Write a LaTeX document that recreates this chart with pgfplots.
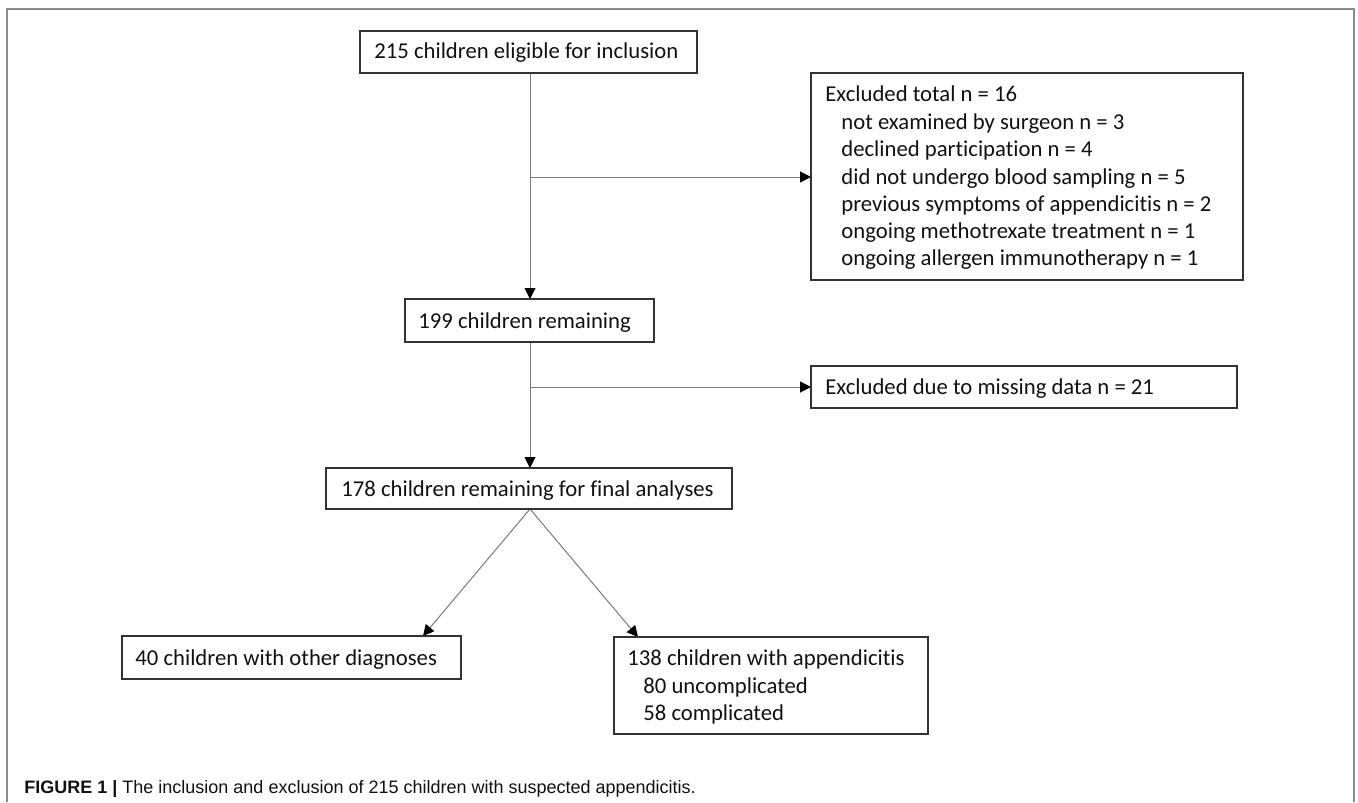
\documentclass[border=0pt]{standalone}
\usepackage{pgfplots}
\pgfplotsset{compat=1.18}
\usepackage{fontspec}
\setmainfont{Carlito}[Ligatures=NoCommon,RawFeature={-liga;-clig;-dlig}]
\newfontfamily\capfont{Liberation Sans}
\usetikzlibrary{arrows.meta}
\definecolor{boxc}{HTML}{333333}
\definecolor{linec}{HTML}{7A7A7A}
\definecolor{framec}{HTML}{8C8C8C}
\definecolor{txt}{HTML}{111111}
\newcommand\fs{\fontsize{11.35}{13.6}\selectfont}
\begin{document}
\begin{tikzpicture}
\begin{axis}[width=679pt,height=401pt,scale only axis,
  xmin=0,xmax=1358,ymin=0,ymax=802,y dir=reverse,
  hide axis,clip=false,no markers,
  every axis plot/.append style={line join=miter}]
% invisible extent
\addplot[draw=none] coordinates {(0,0) (1358,802)};
% outer frame
\addplot[draw=framec,line width=0.6pt] coordinates {(7,802) (7,9) (1354,9) (1354,802)};
% connectors
\tikzset{arr/.style={draw=linec,line width=0.5pt,-{Triangle[length=5.5pt,width=5.5pt,color=black]}}}
\addplot[arr] coordinates {(530,73) (530,299)};
\addplot[arr] coordinates {(530,342) (530,468)};
\addplot[arr] coordinates {(530,177) (811,177)};
\addplot[arr] coordinates {(530,387) (811,387)};
\addplot[arr] coordinates {(530,509) (423,636)};
\addplot[arr] coordinates {(530,509) (638,637)};
% boxes
\tikzset{bx/.style={draw=boxc,line width=1pt,line cap=rect}}
\addplot[bx] coordinates {(360,31) (697,31) (697,73) (360,73) (360,31)};
\addplot[bx] coordinates {(405,299) (654,299) (654,342) (405,342) (405,299)};
\addplot[bx] coordinates {(811,73) (1243,73) (1243,280) (811,280) (811,73)};
\addplot[bx] coordinates {(811,366) (1237,366) (1237,408) (811,408) (811,366)};
\addplot[bx] coordinates {(326,468) (732,468) (732,509) (326,509) (326,468)};
\addplot[bx] coordinates {(122,636) (461,636) (461,679) (122,679) (122,636)};
\addplot[bx] coordinates {(614,637) (928,637) (928,734) (614,734) (614,637)};
% texts
\tikzset{t/.style={anchor=base west,inner sep=0pt,font=\fs,text=txt}}
\node[t] at (axis cs:374,59) {215 children eligible for inclusion};
\node[t] at (axis cs:418,328) {199 children remaining};
\node[t] at (axis cs:825,102) {Excluded total n = 16};
\node[t] at (axis cs:841,129) {not examined by surgeon n = 3};
\node[t] at (axis cs:841,156) {declined participation n = 4};
\node[t] at (axis cs:841,184) {did not undergo blood sampling n = 5};
\node[t] at (axis cs:841,211) {previous symptoms of appendicitis n = 2};
\node[t] at (axis cs:841,238) {ongoing methotrexate treatment n = 1};
\node[t] at (axis cs:841,265) {ongoing allergen immunotherapy n = 1};
\node[t] at (axis cs:825,394) {Excluded due to missing data n = 21};
\node[t] at (axis cs:341,496) {178 children remaining for final analyses};
\node[t] at (axis cs:135,665) {40 children with other diagnoses};
\node[t] at (axis cs:627,665) {138 children with appendicitis};
\node[t] at (axis cs:643,693) {80 uncomplicated};
\node[t] at (axis cs:643,720) {58 complicated};
\node[anchor=base west,inner sep=0pt,font=\capfont\fontsize{9}{11}\selectfont,text=txt] at (axis cs:24,793) {\textbf{FIGURE 1 |} The inclusion and exclusion of 215 children with suspected appendicitis.};
\end{axis}
\end{tikzpicture}
\end{document}
